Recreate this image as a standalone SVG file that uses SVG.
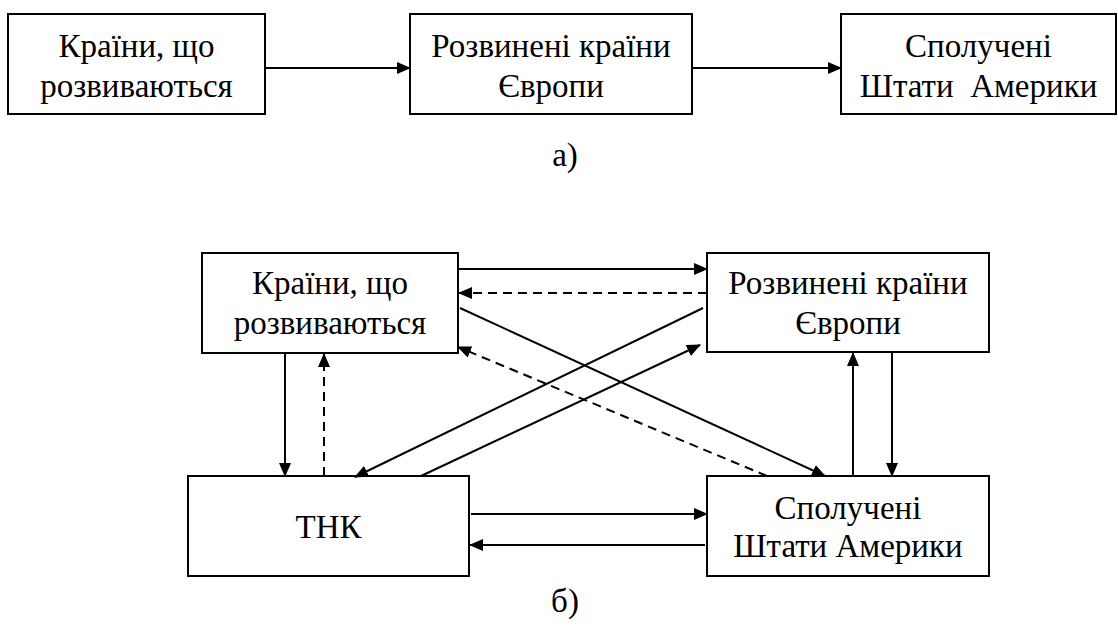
<svg xmlns="http://www.w3.org/2000/svg" width="1118" height="630" viewBox="0 0 1118 630">
<style>
.box{fill:#fff;stroke:#000;stroke-width:2}
.t{font-family:"Liberation Serif","Times New Roman",serif;font-size:33px;text-anchor:middle;fill:#000}
.c{stroke:#000;stroke-width:2;fill:none}
.d{stroke-dasharray:9,6}
</style>
<defs>
<marker id="ah" markerWidth="14" markerHeight="12" refX="13" refY="6" orient="auto" markerUnits="userSpaceOnUse">
<path d="M0,0 L14,6 L0,12 Z" fill="#000"/>
</marker>
</defs>
<rect width="1118" height="630" fill="#fff"/>
<g id="a-developing"><rect class="box" x="8" y="14" width="257" height="100"/><text class="t" x="136.5" y="57">Країни, що</text><text class="t" x="136.5" y="97">розвиваються</text></g>
<g id="a-europe"><rect class="box" x="410" y="14" width="282" height="100"/><text class="t" x="551" y="57">Розвинені країни</text><text class="t" x="551" y="97">Європи</text></g>
<g id="a-usa"><rect class="box" x="841" y="14" width="275" height="100"/><text class="t" x="978.5" y="57">Сполучені</text><text class="t" x="978.5" y="97" xml:space="preserve">Штати  Америки</text></g>
<text class="t" x="565" y="166">а)</text>
<g id="b-developing"><rect class="box" x="202" y="253" width="256" height="100"/><text class="t" x="330" y="294">Країни, що</text><text class="t" x="330" y="334">розвиваються</text></g>
<g id="b-europe"><rect class="box" x="707" y="253" width="282" height="99"/><text class="t" x="848" y="294">Розвинені країни</text><text class="t" x="848" y="334">Європи</text></g>
<g id="b-tnk"><rect class="box" x="188" y="476" width="281" height="100"/><text class="t" x="328.5" y="538">ТНК</text></g>
<g id="b-usa"><rect class="box" x="707" y="476" width="282" height="100"/><text class="t" x="848" y="519">Сполучені</text><text class="t" x="848" y="557">Штати Америки</text></g>
<text class="t" x="565" y="612">б)</text>
<g id="connectors">
<line class="c" x1="265" y1="68" x2="410" y2="68" marker-end="url(#ah)"/>
<line class="c" x1="692" y1="68" x2="841" y2="68" marker-end="url(#ah)"/>
<line class="c" x1="458" y1="269" x2="707" y2="269" marker-end="url(#ah)"/>
<line class="c d" x1="707" y1="293" x2="459" y2="293" marker-end="url(#ah)"/>
<line class="c" x1="460" y1="308" x2="825" y2="476" marker-end="url(#ah)"/>
<line class="c" x1="703" y1="308" x2="355" y2="477" marker-end="url(#ah)"/>
<line class="c" x1="421" y1="476" x2="700" y2="345" marker-end="url(#ah)"/>
<line class="c d" x1="767" y1="476" x2="458" y2="347" marker-end="url(#ah)"/>
<line class="c" x1="285" y1="353" x2="285" y2="476" marker-end="url(#ah)"/>
<line class="c d" x1="324" y1="476" x2="324" y2="354" marker-end="url(#ah)"/>
<line class="c" x1="853" y1="476" x2="853" y2="353" marker-end="url(#ah)"/>
<line class="c" x1="892" y1="352" x2="892" y2="476" marker-end="url(#ah)"/>
<line class="c" x1="471" y1="514" x2="707" y2="514" marker-end="url(#ah)"/>
<line class="c" x1="705" y1="545" x2="470" y2="545" marker-end="url(#ah)"/>
</g>
</svg>
